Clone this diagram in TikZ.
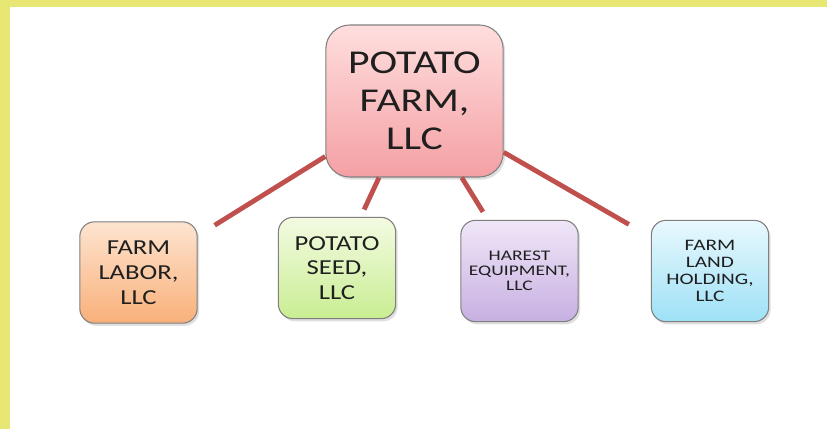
\documentclass[tikz,border=0pt]{standalone}
\usepackage{fontspec}
\setmainfont{Carlito}
\newfontfamily\wideA[FakeStretch=1.25]{Carlito}
\newfontfamily\wideB[FakeStretch=1.33]{Carlito}
\usepackage{xcolor}
\usepackage{tikz}
\usetikzlibrary{shadows}
\definecolor{frame}{HTML}{E9E773}
\definecolor{link}{HTML}{C0504D}
\definecolor{edge}{HTML}{808080}
\definecolor{redtop}{HTML}{FFDEDE}
\definecolor{redbot}{HTML}{F4A0A4}
\definecolor{orgtop}{HTML}{FDE4D0}
\definecolor{orgbot}{HTML}{F9B07A}
\definecolor{grntop}{HTML}{F3FBE2}
\definecolor{grnbot}{HTML}{C9ED92}
\definecolor{purtop}{HTML}{F0E6F7}
\definecolor{purbot}{HTML}{C7B0E2}
\definecolor{blutop}{HTML}{E9F8FD}
\definecolor{blubot}{HTML}{9DE1F7}
\tikzset{
  box/.style={draw=edge, line width=0.8pt, rounded corners=11pt, align=center,
    text=black!88, inner sep=0pt,
    drop shadow={shadow xshift=1.5pt, shadow yshift=-2pt, opacity=0.25}},
  top/.style={box, minimum width=133pt, minimum height=114pt, rounded corners=18pt,
    top color=redtop, bottom color=redbot, font=\wideA\fontsize{25}{28.5}\selectfont},
  sub/.style={box, minimum width=88pt, minimum height=76pt},
  big/.style={font=\wideA\fontsize{16}{18.6}\selectfont},
  mid/.style={font=\wideB\fontsize{12}{12.8}\selectfont},
  small/.style={font=\wideB\fontsize{11}{11.3}\selectfont},
  link/.style={draw=link, line width=3.6pt},
}

\begin{document}
\begin{tikzpicture}[x=0.75pt, y=-0.75pt]
  % frame
  \fill[frame] (0,0) rectangle (827,429);
  \fill[white] (10,7) rectangle (827,429);
  \useasboundingbox (0,0) rectangle (827,429);

  \node[top] (main) at (414.5,101) {POTATO\\FARM,\\LLC};

  \node[sub, big, top color=orgtop, bottom color=orgbot] (labor) at (138.5,272.5) {FARM\\LABOR,\\LLC};
  \node[sub, big, top color=grntop, bottom color=grnbot] (seed) at (337,268) {POTATO\\SEED,\\LLC};
  \node[sub, small, top color=purtop, bottom color=purbot] (harest) at (519.5,271) {HAREST\\EQUIPMENT,\\LLC};
  \node[sub, mid, top color=blutop, bottom color=blubot] (land) at (710,271) {FARM\\LAND\\HOLDING,\\LLC};

  \draw[link, shorten >=15pt] (main) -- (labor);
  \draw[link, shorten >=6pt] (main) -- (seed);
  \draw[link, shorten >=7pt] (main) -- (harest);
  \draw[link, shorten >=19pt] (main) -- (land);
\end{tikzpicture}
\end{document}
